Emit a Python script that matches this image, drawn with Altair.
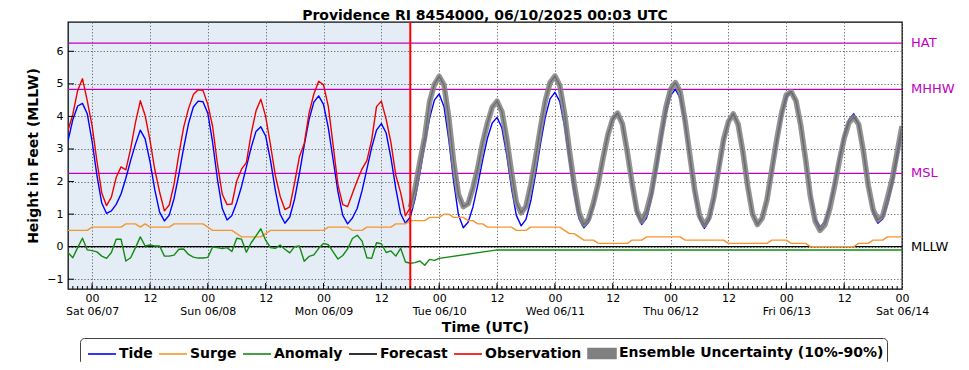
import altair as alt
import pandas as pd

W, H = 834, 267
X_DOMAIN = [-5, 168]
Y_DOMAIN = [-1.3, 6.9]
NOW_HOUR = 66

TITLE = "Providence RI 8454000, 06/10/2025 00:03 UTC"
day_labels = ["Sat 06/07", "Sun 06/08", "Mon 06/09", "Tue 06/10",
              "Wed 06/11", "Thu 06/12", "Fri 06/13", "Sat 06/14"]
x_tick_hours = [0, 12, 24, 36, 48, 60, 72, 84, 96, 108, 120, 132, 144, 156, 168]
y_tick_values = [-1, 0, 1, 2, 3, 4, 5, 6]

# hourly values, hour 0 = Sat 06/07 00:00 UTC
tide_start = -5
tide = [3.25, 3.90, 4.32, 4.40, 4.08,
        3.23, 2.19, 1.34, 1.02, 1.10, 1.30, 1.62, 2.10, 2.65, 3.15,
        3.58, 3.31, 2.62, 1.75, 1.06, 0.79, 0.97, 1.48, 2.22, 3.04,
        3.78, 4.29, 4.47, 4.45, 4.10, 3.20, 2.07, 1.17, 0.82, 0.96,
        1.36, 1.85, 2.45, 3.05, 3.54, 3.68, 3.40, 2.66, 1.74, 1.00,
        0.72, 0.91, 1.46, 2.24, 3.11, 3.90, 4.44, 4.63, 4.37, 3.65,
        2.67, 1.68, 0.96, 0.70, 0.88, 1.18, 1.72, 2.38, 3.05, 3.58,
        3.78, 3.49, 2.72, 1.78, 1.01, 0.72, 0.91, 1.47, 2.26, 3.14,
        3.94, 4.50, 4.69, 4.30, 3.27, 2.00, 0.97, 0.58, 0.75, 1.22,
        1.90, 2.65, 3.33, 3.80, 3.97, 3.65, 2.82, 1.79, 0.96, 0.64,
        0.84, 1.41, 2.23, 3.15, 3.97, 4.54, 4.74, 4.46, 3.70, 2.66,
        1.62, 0.86, 0.58, 0.75, 1.24, 1.95, 2.73, 3.44, 3.93, 4.10,
        3.77, 2.92, 1.86, 1.01, 0.68, 0.88, 1.46, 2.30, 3.22, 4.06,
        4.64, 4.84, 4.55, 3.77, 2.70, 1.63, 0.85, 0.56, 0.80, 1.44,
        2.32, 3.20, 3.84, 4.08, 3.76, 2.91, 1.85, 1.00, 0.68, 0.88,
        1.45, 2.27, 3.17, 3.99, 4.56, 4.76, 4.48, 3.72, 2.68, 1.64,
        0.88, 0.60, 0.77, 1.25, 1.95, 2.73, 3.43, 3.91, 4.08, 3.76,
        2.92, 1.88, 1.04, 0.72, 0.85, 1.30, 1.90, 2.70, 3.50]

surge_start = -5
surge = ([0.5] * 5 + [0.6] * 7 + [0.7] * 3 + [0.6] + [0.7] + [0.6] * 5 + [0.7] * 7 +
         [0.6] + [0.5] * 5 + [0.4] + [0.3] * 5 + [0.4] + [0.5] * 12 + [0.6] * 5 +
         [0.5] * 3 + [0.6] * 6 + [0.7] * 3 + [0.8] * 4 + [0.9] * 3 + [1.0] * 2 +
         [0.9] * 3 + [0.8] * 2 + [0.7] * 2 + [0.6] * 6 + [0.5] * 3 + [0.6] * 7 +
         [0.5] + [0.4] * 2 + [0.3] + [0.2] * 3 + [0.1] * 7 + [0.2] * 3 + [0.3] * 8 +
         [0.2] * 9 + [0.1] * 9 + [0.2] * 4 + [0.1] * 4 + [0.0] * 10 + [0.1] * 3 +
         [0.2] * 3 + [0.3] * 4)

anomaly_hours = list(range(-5, 73)) + [84, 168]
anomaly = [-0.18, -0.34, -0.03, 0.26, -0.10,
           -0.12, -0.16, -0.29, -0.36, -0.18, 0.23, 0.23, -0.44, -0.34, -0.03,
           0.30, 0.02, 0.05, 0.02, 0.02, -0.29, -0.29, -0.26, -0.08, -0.07,
           -0.24, -0.32, -0.35, -0.35, -0.33, -0.01, -0.03, -0.06, -0.03, -0.15,
           0.26, 0.23, -0.17, 0.12, 0.33, 0.55, 0.20, -0.03, -0.05, 0.05,
           -0.08, -0.19, 0.00, 0.02, -0.45, -0.30, -0.25, -0.05, 0.10, 0.06,
           -0.16, -0.38, -0.27, -0.07, 0.25, 0.35, 0.17, -0.34, -0.36, 0.12,
           0.09, -0.18, -0.13, -0.29, -0.05, -0.47, -0.51, -0.49, -0.44, -0.57,
           -0.39, -0.42, -0.36,
           -0.10, -0.10]

observation_start = -5
observation = [3.57, 4.06, 4.79, 5.16, 4.48,
               3.71, 2.63, 1.65, 1.26, 1.52, 2.13, 2.45, 2.36, 3.01, 3.82,
               4.48, 4.03, 3.27, 2.37, 1.68, 1.10, 1.28, 1.92, 2.84, 3.67,
               4.24, 4.67, 4.82, 4.80, 4.37, 3.69, 2.54, 1.61, 1.29, 1.31,
               2.02, 2.38, 2.58, 3.47, 4.17, 4.53, 4.00, 3.13, 2.19, 1.55,
               1.14, 1.22, 1.96, 2.76, 3.16, 4.10, 4.69, 5.08, 4.97, 4.31,
               3.11, 1.90, 1.29, 1.23, 1.63, 2.03, 2.39, 2.64, 3.29, 4.30,
               4.47, 3.91, 3.19, 2.19, 1.66, 0.95, 1.20]

forecast_start = 66
forecast = [1.20, 1.78, 2.62, 3.37,
            4.45, 4.98, 5.23, 4.96, 3.95, 2.60, 1.60, 1.23, 1.32, 1.81,
            2.41, 3.18, 3.79, 4.28, 4.47, 4.15, 3.32, 2.29, 1.36, 1.04,
            1.24, 1.91, 2.73, 3.65, 4.47, 5.04, 5.24, 4.96, 4.10, 2.96,
            1.92, 1.06, 0.68, 0.85, 1.34, 1.95, 2.73, 3.44, 3.93, 4.10,
            3.77, 2.92, 1.96, 1.11, 0.78, 1.08, 1.66, 2.50, 3.42, 4.26,
            4.84, 5.04, 4.75, 3.87, 2.80, 1.73, 0.95, 0.66, 0.90, 1.54,
            2.42, 3.30, 3.84, 4.08, 3.76, 2.91, 1.85, 1.00, 0.68, 0.88,
            1.45, 2.37, 3.27, 4.09, 4.66, 4.76, 4.48, 3.72, 2.68, 1.54,
            0.78, 0.50, 0.67, 1.15, 1.85, 2.63, 3.33, 3.81, 3.98, 3.76,
            2.92, 1.88, 1.14, 0.82, 0.95, 1.50, 2.10, 2.90, 3.70]

series_names = ["Tide", "Surge", "Anomaly", "Forecast", "Observation",
                "Ensemble Uncertainty (10%-90%)"]
series_colors = ["#0000ff", "#f7952f", "#138a13", "#000000", "#ee0000", "#808080"]
LINE_SYMBOL = "M-1.27,0H1.27"
BOX_SYMBOL = "M-1.27,-0.45H1.27V0.45H-1.27Z"
legend_shapes = [LINE_SYMBOL] * 5 + [BOX_SYMBOL]

level_names = ["HAT", "MHHW", "MSL", "MLLW"]
level_values = [6.25, 4.83, 2.25, 0.0]
level_colors = ["#c000c0", "#c000c0", "#c000c0", "#000000"]

# ---------------- data frames ----------------
rows = []
for i, v in enumerate(tide):
    rows.append({"h": tide_start + i, "v": v, "series": "Tide"})
for i, v in enumerate(surge):
    rows.append({"h": surge_start + i, "v": v, "series": "Surge"})
for hh, v in zip(anomaly_hours, anomaly):
    rows.append({"h": hh, "v": v, "series": "Anomaly"})
for i, v in enumerate(forecast):
    rows.append({"h": forecast_start + i, "v": v, "series": "Forecast"})
for i, v in enumerate(observation):
    rows.append({"h": observation_start + i, "v": v, "series": "Observation"})
lines_df = pd.DataFrame(rows)

ens_df = pd.DataFrame({"h": [forecast_start + i for i in range(len(forecast))],
                       "v": forecast,
                       "series": series_names[5]})
legend_df = pd.DataFrame({"series": series_names,
                          "h": [X_DOMAIN[0]] * len(series_names),
                          "v": [0.0] * len(series_names)})

levels_df = pd.DataFrame({"name": level_names, "v": level_values, "col": level_colors})
past_df = pd.DataFrame({"start": [X_DOMAIN[0]], "end": [NOW_HOUR]})
now_df = pd.DataFrame({"h": [NOW_HOUR]})
minor_df = pd.DataFrame({"h": list(range(X_DOMAIN[0] + 1, X_DOMAIN[1]))})
major_df = pd.DataFrame({"h": x_tick_hours[:-1]})
ytick_df = pd.DataFrame({"v": y_tick_values})

js_days = "[" + ",".join("'" + d + "'" for d in day_labels) + "]"
label_expr = ("datum.value % 24 === 0 ? ['00', " + js_days +
              "[datum.value / 24]] : '12'")

xscale = alt.Scale(domain=X_DOMAIN, nice=False, zero=False)
yscale = alt.Scale(domain=Y_DOMAIN, nice=False, zero=False)

x_axis = alt.Axis(values=x_tick_hours, labelExpr=label_expr, grid=True,
                  ticks=False, domain=False, labelOverlap=False, labelFlush=False,
                  labelFontSize=11, labelColor="#000", labelPadding=3,
                  labelLineHeight=13, labelBaseline="top",
                  title="Time (UTC)", titleFontSize=14, titleFontWeight="bold",
                  titleColor="#000", titlePadding=4)
y_axis = alt.Axis(values=y_tick_values, format="d", grid=True, ticks=False,
                  domain=False, labelOverlap=False, labelFlush=False,
                  labelFontSize=11, labelColor="#000", labelPadding=5,
                  title="Height in Feet (MLLW)", titleFontSize=14,
                  titleFontWeight="bold", titleColor="#000", titlePadding=6)

X = lambda f: alt.X(f, scale=xscale, axis=x_axis)
Y = lambda f: alt.Y(f, scale=yscale, axis=y_axis)

legend_common = dict(title=None, orient="none", legendX=12, legendY=316,
                     direction="horizontal", columns=6)
color_enc = alt.Color("series:N",
                      scale=alt.Scale(domain=series_names, range=series_colors),
                      legend=alt.Legend(**legend_common))

past = alt.Chart(past_df).mark_rect(color="#3f7fb5", opacity=0.14).encode(
    x=X("start:Q"), x2="end:Q", y=alt.value(0), y2=alt.value(H))

refs = alt.Chart(levels_df).mark_rule(strokeWidth=1.3).encode(
    y=Y("v:Q"), stroke=alt.Stroke("col:N", scale=None))

lines = alt.Chart(lines_df).mark_line(clip=True, strokeWidth=1.4,
                                      strokeJoin="round").encode(
    x=X("h:Q"), y=Y("v:Q"), color=color_enc, detail="series:N")

ens = alt.Chart(ens_df).mark_line(clip=True, strokeWidth=5.5, opacity=0.85,
                                  strokeJoin="round").encode(
    x=X("h:Q"), y=Y("v:Q"), color=color_enc)

legend_pts = alt.Chart(legend_df).transform_filter("false").mark_point(
    filled=True, opacity=1).encode(
    x=X("h:Q"), y=Y("v:Q"), color=color_enc,
    shape=alt.Shape("series:N",
                    scale=alt.Scale(domain=series_names, range=legend_shapes),
                    legend=alt.Legend(**legend_common)))

now = alt.Chart(now_df).mark_rule(color="#ff0000", strokeWidth=2).encode(
    x=X("h:Q"))

labels = alt.Chart(levels_df).mark_text(align="left", baseline="middle",
                                        fontSize=13).encode(
    x=alt.value(W + 9), y=Y("v:Q"), text="name:N",
    fill=alt.Fill("col:N", scale=None))

minor = alt.Chart(minor_df).mark_rule(color="#000", strokeWidth=1).encode(
    x=X("h:Q"), y=alt.value(H), y2=alt.value(H - 3))
major = alt.Chart(major_df).mark_rule(color="#000", strokeWidth=1).encode(
    x=X("h:Q"), y=alt.value(H), y2=alt.value(H - 6))
yticks = alt.Chart(ytick_df).mark_rule(color="#000", strokeWidth=1).encode(
    y=Y("v:Q"), x=alt.value(0), x2=alt.value(6))

chart = alt.layer(past, refs, lines, ens, legend_pts, now, labels,
                  minor, major, yticks).properties(
    width=W, height=H,
    title=alt.TitleParams(TITLE, fontSize=14, fontWeight="bold", color="#000",
                          anchor="middle", frame="group", offset=-2),
    autosize=alt.AutoSizeParams(type="none"),
    padding={"left": 60, "top": 14, "right": 59, "bottom": 73},
).configure(font="DejaVu Sans").configure_view(
    stroke="#000", strokeWidth=1.3
).configure_axis(
    gridColor="#666666", gridDash=[1.2, 2], gridWidth=1, gridOpacity=1,
    labelOverlap=False
).configure_legend(
    labelFont="DejaVu Sans", labelFontSize=14, labelFontWeight="bold",
    labelColor="#000", labelLimit=400, symbolSize=484, symbolStrokeWidth=1.6,
    strokeColor="#444", fillColor="#fff", cornerRadius=4, padding=3,
    symbolOffset=7, columnPadding=1, labelOffset=5, symbolOpacity=1
)

chart.save("out.html", embed_options={"renderer": "svg", "actions": False})
